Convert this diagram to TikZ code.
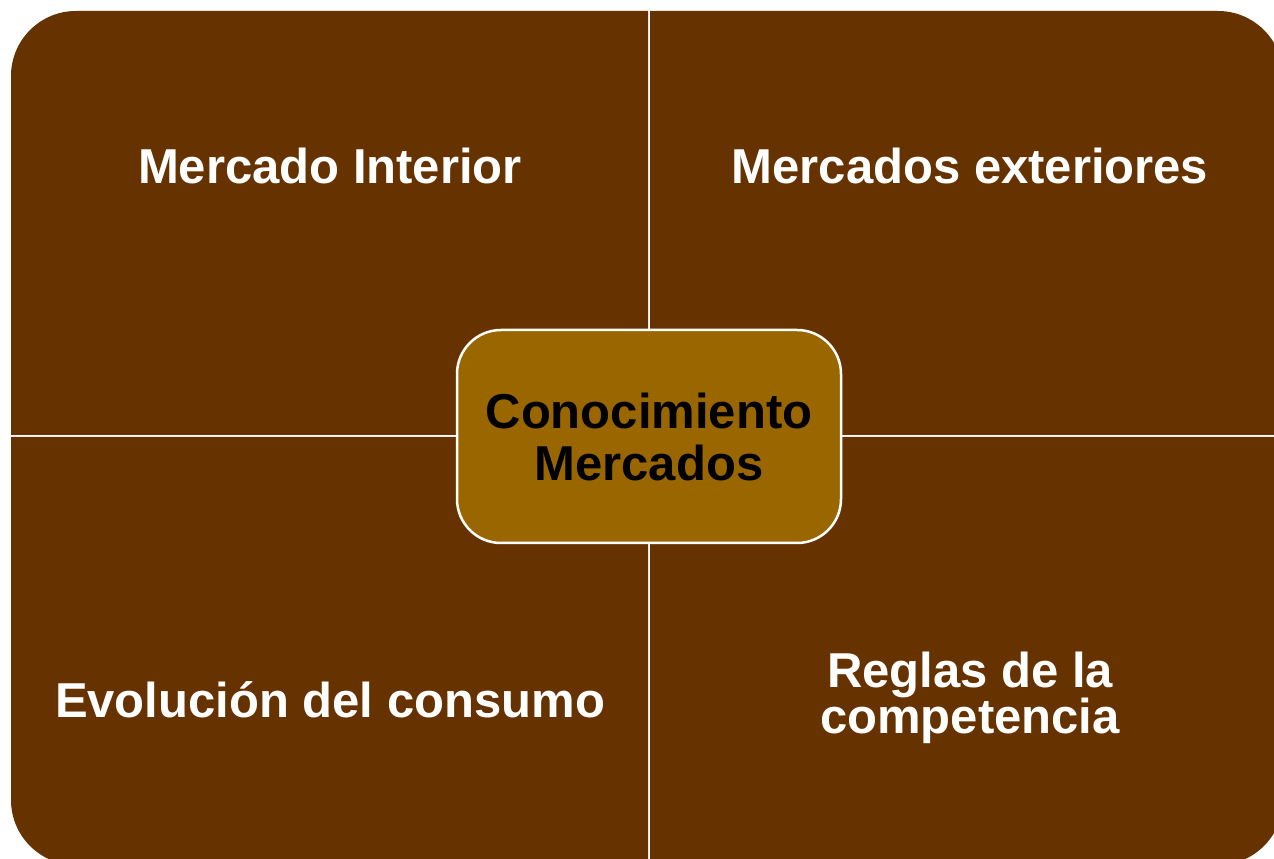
\documentclass[tikz,border=0pt]{standalone}
\usepackage{fontspec}
\setmainfont{Liberation Sans}
\definecolor{quadbrown}{HTML}{663300}
\definecolor{centerochre}{HTML}{996600}
\tikzset{
  quad/.style={fill=quadbrown},
  quadlabel/.style={text=white, font=\bfseries\fontsize{49}{46}\selectfont, align=center, inner sep=0pt, anchor=base},
  hub/.style={draw=white, line width=2.5pt, fill=centerochre, rounded corners=44pt,
    minimum width=384pt, minimum height=213pt, inner sep=0pt,
    font=\bfseries\fontsize{49}{52}\selectfont, align=center, text=black}
}
\begin{document}
\begin{tikzpicture}[x=1pt,y=1pt]
\useasboundingbox (0,0) rectangle (1274,859);
% quadrants
\fill[quad] (648,424) -- (11,424) -- (11,783) arc[start angle=180,end angle=90,radius=65pt] -- (648,848) -- cycle;
\fill[quad] (650,424) -- (650,848) -- (1218,848) arc[start angle=90,end angle=0,radius=65pt] -- (1283,424) -- cycle;
\fill[quad] (648,422) -- (11,422) -- (11,59) arc[start angle=180,end angle=270,radius=65pt] -- (648,-6) -- cycle;
\fill[quad] (650,422) -- (650,-6) -- (1218,-6) arc[start angle=270,end angle=360,radius=65pt] -- (1283,422) -- cycle;
% labels
\node[quadlabel] (mi) at (330,675) {Mercado Interior};
\node[quadlabel] (me) at (970,675) {Mercados exteriores};
\node[quadlabel] (ev) at (330,141) {Evolución del consumo};
\node[quadlabel] (rc) at (970,125) {Reglas de la\\competencia};
% hub
\node[hub] (hub) at (649,422.5) {Conocimiento\\Mercados};
\end{tikzpicture}
\end{document}
